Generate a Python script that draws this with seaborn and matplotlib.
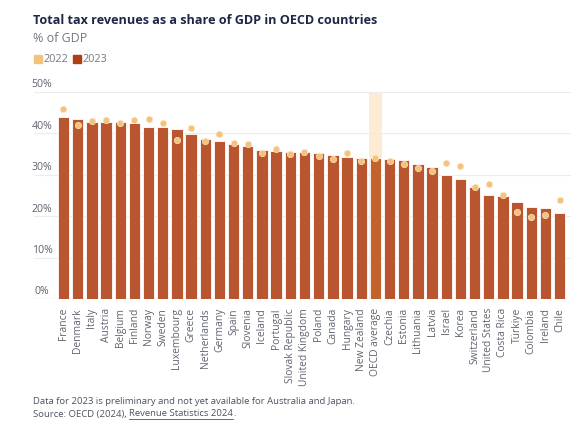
import numpy as np
import pandas as pd
import seaborn as sns
import matplotlib.pyplot as plt
from matplotlib.lines import Line2D

# Data (% of GDP)
countries = ['France', 'Denmark', 'Italy', 'Austria', 'Belgium', 'Finland', 'Norway', 'Sweden',
             'Luxembourg', 'Greece', 'Netherlands', 'Germany', 'Spain', 'Slovenia', 'Iceland',
             'Portugal', 'Slovak Republic', 'United Kingdom', 'Poland', 'Canada', 'Hungary',
             'New Zealand', 'OECD average', 'Czechia', 'Estonia', 'Lithuania', 'Latvia', 'Israel',
             'Korea', 'Switzerland', 'United States', 'Costa Rica', 'Türkiye', 'Colombia',
             'Ireland', 'Chile']
tax_2023 = [43.8, 43.4, 42.8, 42.7, 42.6, 42.4, 41.5, 41.4, 40.9, 39.8, 38.5, 38.0, 37.3, 36.8,
            35.9, 35.8, 35.5, 35.4, 35.1, 34.7, 34.2, 34.0, 34.0, 33.7, 33.5, 32.6, 31.9, 29.8,
            28.9, 27.1, 25.2, 24.9, 23.4, 22.3, 21.9, 20.7]
tax_2022 = [45.8, 42.0, 42.9, 43.2, 42.4, 43.2, 43.5, 42.5, 38.3, 41.3, 38.1, 39.7, 37.7, 37.5,
            35.2, 36.2, 35.0, 35.5, 34.4, 33.8, 35.2, 33.2, 34.1, 33.2, 32.6, 31.5, 30.8, 32.8,
            32.0, 26.9, 27.7, 25.2, 21.0, 19.7, 20.3, 23.9]
yticks = [0, 10, 20, 30, 40, 50]

df = pd.DataFrame({'country': countries, 'y2023': tax_2023, 'y2022': tax_2022})

bar_col = '#B9552F'
avg_col = '#C4622C'
dot_col = '#F4C27C'
grey = '#5f6470'

plt.rcParams['font.family'] = ['Open Sans', 'DejaVu Sans']

fig = plt.figure(figsize=(5.72, 4.29), dpi=100)
ax = fig.add_axes([34 / 572, 130 / 429, 537 / 572, 207.3 / 429])

# highlight band behind the OECD average
avg_idx = countries.index('OECD average')
ax.axvspan(avg_idx - 0.46, avg_idx + 0.46, color='#FDEBD4', zorder=0, lw=0)

palette = {c: (avg_col if c == 'OECD average' else bar_col) for c in countries}
sns.barplot(data=df, x='country', y='y2023', hue='country', palette=palette, legend=False,
            width=0.8, edgecolor='white', linewidth=0.6, saturation=1, ax=ax, zorder=2)
sns.stripplot(data=df, x='country', y='y2022', jitter=False, color=dot_col, size=4.6,
              edgecolor='#FBE3BC', linewidth=0.5, ax=ax, zorder=3)

ax.set_xlim(-2.08, 35.8)
ax.set_ylim(0, 50)
ax.set_yticks(yticks)
ax.grid(axis='y', color='#ECECEC', lw=0.8, zorder=0)
ax.set_axisbelow(True)
ax.axhline(0, color='#D5D5D5', lw=0.9, zorder=1)
for s in ax.spines.values():
    s.set_visible(False)
ax.set_xlabel('')
ax.set_ylabel('')
ax.tick_params(axis='y', left=False, labelleft=False)
ax.tick_params(axis='x', bottom=False, pad=3)
ax.set_xticks(range(len(countries)))
ax.set_xticklabels(countries, rotation=90, fontsize=7.4, color=grey)
for c in ax.collections:
    c.set_clip_on(False)

for t in yticks:
    ax.text(-1.52, t + 1.7, f'{t}%', ha='center', va='center', fontsize=7.6, color=grey)

# titles
fig.text(33 / 572, 1 - 20 / 429, 'Total tax revenues as a share of GDP in OECD countries',
         fontsize=9.1, fontweight='bold', color='#1E2747', va='center')
fig.text(33 / 572, 1 - 38 / 429, '% of GDP', fontsize=9, color='#737885', va='center')

handles = [Line2D([], [], marker='s', ls='', color=dot_col, markersize=5.5),
           Line2D([], [], marker='s', ls='', color='#B23D14', markersize=5.5)]
fig.legend(handles, ['2022', '2023'], loc='center left', bbox_to_anchor=(23 / 572, 1 - 60 / 429),
           ncol=2, frameon=False, fontsize=7.8, handletextpad=0.0, columnspacing=0.3,
           handlelength=1.0, labelcolor='#737885')

# footer
fig.text(33 / 572, 1 - 401 / 429,
         'Data for 2023 is preliminary and not yet available for Australia and Japan.',
         fontsize=6.8, color='#4B5260', va='center')
t1 = fig.text(33 / 572, 1 - 414 / 429, 'Source: OECD (2024), ', fontsize=6.8, color='#4B5260',
              va='center')
fig.canvas.draw()
r = fig.canvas.get_renderer()
bb = t1.get_window_extent(r)
x0 = bb.x1 / fig.bbox.width
t2 = fig.text(x0, 1 - 414 / 429, 'Revenue Statistics 2024', fontsize=6.8, color='#4B5260',
              va='center')
bb2 = t2.get_window_extent(r)
x1 = bb2.x1 / fig.bbox.width
fig.add_artist(Line2D([x0, x1], [bb2.y0 / fig.bbox.height - 0.001] * 2, color='#4B5260', lw=0.6))
fig.text(x1, 1 - 414 / 429, '.', fontsize=6.8, color='#4B5260', va='center')

fig.savefig('out.png', dpi=100)
